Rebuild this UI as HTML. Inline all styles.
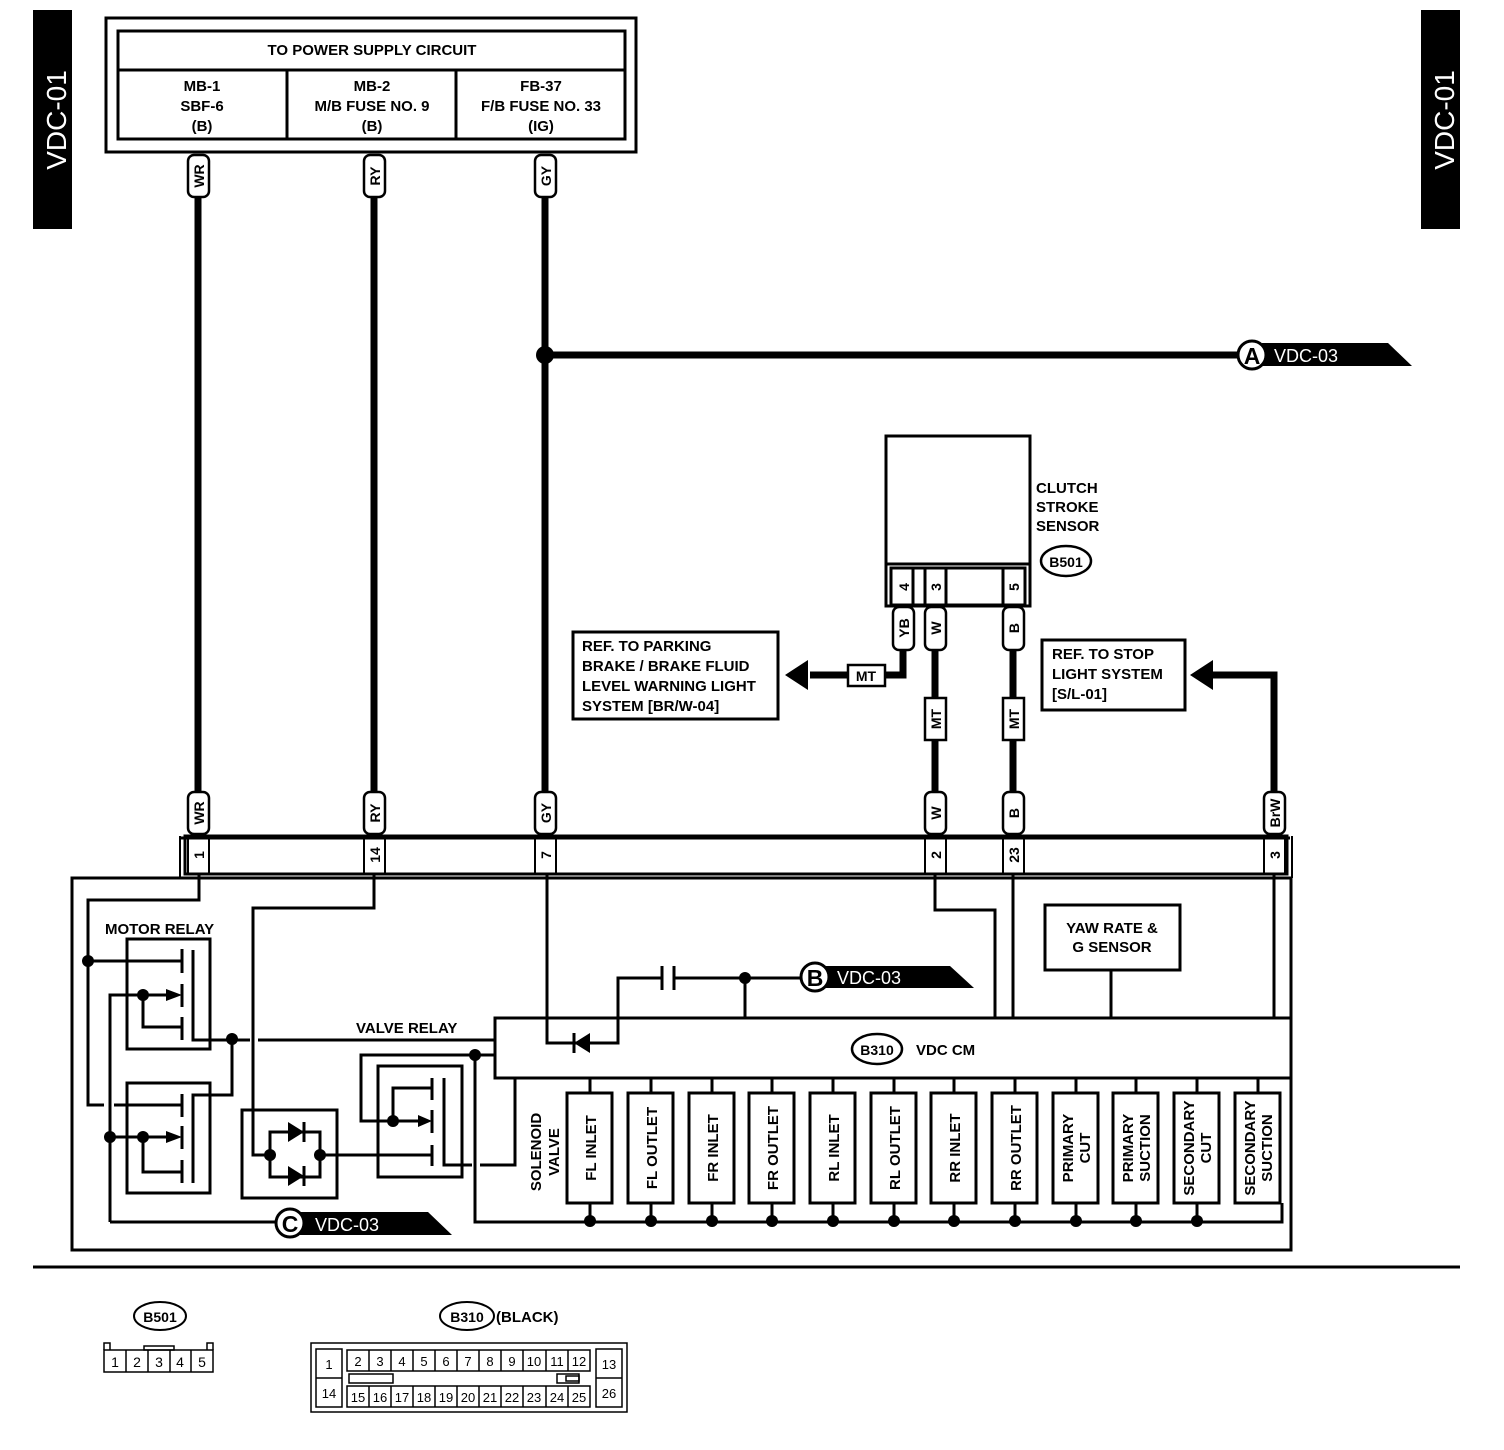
<!DOCTYPE html>
<html><head><meta charset="utf-8"><style>
html,body{margin:0;padding:0;background:#fff;}
svg{display:block;font-family:"Liberation Sans",Arial,sans-serif;font-weight:bold;}
</style></head><body>
<svg width="1504" height="1450" viewBox="0 0 1504 1450" xmlns="http://www.w3.org/2000/svg">
<rect width="1504" height="1450" fill="#fff"/>
<!-- side tabs -->
<rect x="33" y="10" width="39" height="219" fill="#000"/>
<text transform="translate(66,120) rotate(-90)" text-anchor="middle" font-size="28" fill="#fff" font-weight="normal">VDC-01</text>
<rect x="1421" y="10" width="39" height="219" fill="#000"/>
<text transform="translate(1454,120) rotate(-90)" text-anchor="middle" font-size="28" fill="#fff" font-weight="normal">VDC-01</text>

<g fill="none" stroke="#000">
<!-- top box -->
<rect x="106" y="18" width="530" height="134" stroke-width="3"/>
<rect x="118" y="31" width="507" height="108" stroke-width="3"/>
<line x1="118" y1="70" x2="625" y2="70" stroke-width="3"/>
<line x1="287" y1="70" x2="287" y2="139" stroke-width="3"/>
<line x1="456" y1="70" x2="456" y2="139" stroke-width="3"/>
<!-- thick wires -->
<g stroke-width="7">
<line x1="198" y1="195" x2="198" y2="793"/>
<line x1="374" y1="195" x2="374" y2="793"/>
<line x1="545" y1="195" x2="545" y2="793"/>
<line x1="545" y1="355" x2="1240" y2="355"/>
<polyline points="903,650 903,675 885,675"/>
<line x1="848" y1="675" x2="810" y2="675"/>
<line x1="935" y1="650" x2="935" y2="793"/>
<line x1="1013" y1="650" x2="1013" y2="793"/>
<polyline points="1274,793 1274,675 1212,675"/>
</g>
<!-- clutch sensor -->
<rect x="886" y="436" width="144" height="128" stroke-width="3"/>
<polyline points="886,564 886,606 1030,606 1030,564" stroke-width="3"/>
<rect x="891" y="568" width="134" height="37" stroke-width="3"/>
<line x1="913" y1="568" x2="913" y2="605" stroke-width="3"/>
<line x1="925" y1="568" x2="925" y2="605" stroke-width="3"/>
<line x1="946" y1="568" x2="946" y2="605" stroke-width="3"/>
<line x1="1003" y1="568" x2="1003" y2="605" stroke-width="3"/>
<!-- ref boxes -->
<rect x="573" y="632" width="205" height="87" stroke-width="3"/>
<rect x="1042" y="640" width="143" height="70" stroke-width="3"/>
<!-- connector strip -->
<polyline points="180,838 1290,838" stroke-width="3"/>
<rect x="185" y="836" width="1102" height="38" stroke-width="3"/>
<polyline points="180,836 180,878" stroke-width="2"/>
<polyline points="1292,836 1292,878" stroke-width="2"/>
<!-- main box -->
<rect x="72" y="878" width="1219" height="372" stroke-width="3"/>
<!-- pin cells -->
<g stroke-width="2">
<rect x="188" y="836" width="21" height="38"/>
<rect x="364" y="836" width="21" height="38"/>
<rect x="535" y="836" width="21" height="38"/>
<rect x="925" y="836" width="21" height="38"/>
<rect x="1003" y="836" width="21" height="38"/>
<rect x="1264" y="836" width="21" height="38"/>
</g>
<!-- internal wiring -->
<g stroke-width="3">
<polyline points="199,874 199,900 88,900 88,1105 104,1105"/>
<line x1="114" y1="1105" x2="182" y2="1105"/>
<line x1="88" y1="961" x2="182" y2="961"/>
<rect x="127" y="939" width="83" height="110"/>
<rect x="127" y="1083" width="83" height="110"/>
<line x1="182" y1="949" x2="182" y2="973"/><line x1="182" y1="984" x2="182" y2="1007"/><line x1="182" y1="1017" x2="182" y2="1040"/>
<polyline points="193,950 193,1040 232,1040"/>
<polyline points="110,1222 110,995 168,995"/>
<polyline points="143,995 143,1027 182,1027"/>
<line x1="182" y1="1094" x2="182" y2="1117"/><line x1="182" y1="1126" x2="182" y2="1149"/><line x1="182" y1="1160" x2="182" y2="1183"/>
<polyline points="193,1183 193,1095 232,1095 232,1040 250,1040"/>
<line x1="258" y1="1040" x2="495" y2="1040"/>
<line x1="110" y1="1137" x2="168" y2="1137"/>
<polyline points="143,1137 143,1172 182,1172"/>
<line x1="110" y1="1222" x2="280" y2="1222"/>
<polyline points="374,874 374,908 253,908 253,1155 270,1155"/>
<rect x="242" y="1110" width="95" height="88"/>
<rect x="270" y="1132" width="50" height="45"/>
<line x1="320" y1="1155" x2="432" y2="1155"/>
<polyline points="495,1055 361,1055 361,1121 420,1121"/>
<polyline points="393,1121 393,1088 432,1088"/>
<rect x="378" y="1066" width="84" height="111"/>
<line x1="432" y1="1078" x2="432" y2="1100"/><line x1="432" y1="1110" x2="432" y2="1133"/><line x1="432" y1="1145" x2="432" y2="1166"/>
<polyline points="444,1078 444,1165 472,1165"/>
<polyline points="480,1165 515,1165 515,1078"/>
<polyline points="475,1055 475,1222 1282,1222 1282,1203"/>
<!-- VDC CM -->
<rect x="495" y="1018" width="796" height="60"/>
<polyline points="547,874 547,1043 578,1043"/>
<polyline points="588,1043 618,1043 618,978 662,978"/>
<line x1="662" y1="966" x2="662" y2="990"/><line x1="674" y1="966" x2="674" y2="990"/>
<line x1="674" y1="978" x2="800" y2="978"/>
<line x1="745" y1="978" x2="745" y2="1018"/>
<polyline points="935,874 935,910 995,910 995,1018"/>
<line x1="1013" y1="874" x2="1013" y2="1018"/>
<rect x="1045" y="905" width="135" height="65"/>
<line x1="1111" y1="970" x2="1111" y2="1018"/>
<line x1="1274" y1="874" x2="1274" y2="1018"/>
<!-- separator -->
<line x1="33" y1="1267" x2="1460" y2="1267"/>
</g>
</g>

<!-- diodes -->
<polygon points="288,1122 288,1142 304,1132" fill="#000"/><line x1="304" y1="1122" x2="304" y2="1142" stroke="#000" stroke-width="3"/>
<polygon points="288,1166 288,1186 304,1176" fill="#000"/><line x1="304" y1="1166" x2="304" y2="1186" stroke="#000" stroke-width="3"/>
<polygon points="590,1033 590,1053 574,1043" fill="#000"/><line x1="574" y1="1033" x2="574" y2="1053" stroke="#000" stroke-width="3"/>
<!-- relay arrows -->
<g fill="#000">
<polygon points="166,989 182,995 166,1001"/><polygon points="166,1131 182,1137 166,1143"/><polygon points="418,1115 432,1121 418,1127"/>
<!-- dots -->
<circle cx="545" cy="355" r="9"/>
<circle cx="88" cy="961" r="6"/><circle cx="143" cy="995" r="6"/><circle cx="232" cy="1039" r="6"/>
<circle cx="110" cy="1137" r="6"/><circle cx="143" cy="1137" r="6"/>
<circle cx="270" cy="1155" r="6"/><circle cx="320" cy="1155" r="6"/>
<circle cx="393" cy="1121" r="6"/><circle cx="475" cy="1055" r="6"/>
<circle cx="745" cy="978" r="6"/>
<!-- arrows -->
<polygon points="785,675 808,660 808,690"/>
<polygon points="1190,675 1213,660 1213,690"/>
</g>

<!-- flags -->
<polygon points="1262,343 1388,343 1412,366 1262,366" fill="#000"/>
<circle cx="1252" cy="355" r="14" fill="#fff" stroke="#000" stroke-width="3"/>
<text x="1252" y="364" text-anchor="middle" font-size="23">A</text>
<text x="1274" y="362" font-size="18" fill="#fff" font-weight="normal">VDC-03</text>
<polygon points="825,966 950,966 974,988 825,988" fill="#000"/>
<circle cx="815" cy="977" r="14" fill="#fff" stroke="#000" stroke-width="3"/>
<text x="815" y="986" text-anchor="middle" font-size="23">B</text>
<text x="837" y="984" font-size="18" fill="#fff" font-weight="normal">VDC-03</text>
<polygon points="300,1212 428,1212 452,1235 300,1235" fill="#000"/>
<circle cx="290" cy="1223" r="14" fill="#fff" stroke="#000" stroke-width="3"/>
<text x="290" y="1232" text-anchor="middle" font-size="23">C</text>
<text x="315" y="1231" font-size="18" fill="#fff" font-weight="normal">VDC-03</text>

<!-- top box text -->
<g font-size="15" text-anchor="middle">
<text x="372" y="55">TO POWER SUPPLY CIRCUIT</text>
<text x="202" y="91">MB-1</text><text x="202" y="111">SBF-6</text><text x="202" y="131">(B)</text>
<text x="372" y="91">MB-2</text><text x="372" y="111">M/B FUSE NO. 9</text><text x="372" y="131">(B)</text>
<text x="541" y="91">FB-37</text><text x="541" y="111">F/B FUSE NO. 33</text><text x="541" y="131">(IG)</text>
</g>

<!-- wire tags -->
<g stroke="#000" stroke-width="2.5" fill="#fff">
<rect x="188" y="155" width="21" height="42" rx="6"/>
<rect x="364" y="155" width="21" height="42" rx="6"/>
<rect x="535" y="155" width="21" height="42" rx="6"/>
<rect x="188" y="792" width="21" height="42" rx="6"/>
<rect x="364" y="792" width="21" height="42" rx="6"/>
<rect x="535" y="792" width="21" height="42" rx="6"/>
<rect x="925" y="792" width="21" height="42" rx="6"/>
<rect x="1003" y="792" width="21" height="42" rx="6"/>
<rect x="1264" y="792" width="21" height="42" rx="6"/>
<rect x="893" y="607" width="21" height="43" rx="6"/>
<rect x="925" y="607" width="21" height="43" rx="6"/>
<rect x="1003" y="607" width="21" height="43" rx="6"/>
<rect x="925" y="698" width="21" height="42"/>
<rect x="1003" y="698" width="21" height="42"/>
<rect x="848" y="665" width="37" height="21"/>
</g>
<g font-size="14">
<text transform="translate(204,176) rotate(-90)" text-anchor="middle">WR</text>
<text transform="translate(380,176) rotate(-90)" text-anchor="middle">RY</text>
<text transform="translate(551,176) rotate(-90)" text-anchor="middle">GY</text>
<text transform="translate(204,813) rotate(-90)" text-anchor="middle">WR</text>
<text transform="translate(380,813) rotate(-90)" text-anchor="middle">RY</text>
<text transform="translate(551,813) rotate(-90)" text-anchor="middle">GY</text>
<text transform="translate(941,813) rotate(-90)" text-anchor="middle">W</text>
<text transform="translate(1019,813) rotate(-90)" text-anchor="middle">B</text>
<text transform="translate(1280,813) rotate(-90)" text-anchor="middle">BrW</text>
<text transform="translate(909,628) rotate(-90)" text-anchor="middle">YB</text>
<text transform="translate(941,628) rotate(-90)" text-anchor="middle">W</text>
<text transform="translate(1019,628) rotate(-90)" text-anchor="middle">B</text>
<text transform="translate(941,719) rotate(-90)" text-anchor="middle">MT</text>
<text transform="translate(1019,719) rotate(-90)" text-anchor="middle">MT</text>
<text x="866" y="681" text-anchor="middle">MT</text>
<!-- pin numbers -->
<text transform="translate(204,855) rotate(-90)" text-anchor="middle">1</text>
<text transform="translate(380,855) rotate(-90)" text-anchor="middle">14</text>
<text transform="translate(551,855) rotate(-90)" text-anchor="middle">7</text>
<text transform="translate(941,855) rotate(-90)" text-anchor="middle">2</text>
<text transform="translate(1019,855) rotate(-90)" text-anchor="middle">23</text>
<text transform="translate(1280,855) rotate(-90)" text-anchor="middle">3</text>
<text transform="translate(909,587) rotate(-90)" text-anchor="middle">4</text>
<text transform="translate(941,587) rotate(-90)" text-anchor="middle">3</text>
<text transform="translate(1019,587) rotate(-90)" text-anchor="middle">5</text>
</g>

<!-- labels -->
<g font-size="15">
<text x="1036" y="493">CLUTCH</text><text x="1036" y="512">STROKE</text><text x="1036" y="531">SENSOR</text>
<text x="582" y="651">REF. TO PARKING</text><text x="582" y="671">BRAKE / BRAKE FLUID</text><text x="582" y="691">LEVEL WARNING LIGHT</text><text x="582" y="711">SYSTEM [BR/W-04]</text>
<text x="1052" y="659">REF. TO STOP</text><text x="1052" y="679">LIGHT SYSTEM</text><text x="1052" y="699">[S/L-01]</text>
<text x="105" y="934">MOTOR RELAY</text>
<text x="356" y="1033">VALVE RELAY</text>
<text x="1112" y="933" text-anchor="middle">YAW RATE &amp;</text><text x="1112" y="952" text-anchor="middle">G SENSOR</text>
<text x="916" y="1055">VDC CM</text>
<text transform="translate(541,1152) rotate(-90)" text-anchor="middle">SOLENOID</text>
<text transform="translate(559,1152) rotate(-90)" text-anchor="middle">VALVE</text>
</g>
<ellipse cx="1066" cy="561" rx="25" ry="15" fill="none" stroke="#000" stroke-width="2.5"/>
<text x="1066" y="567" text-anchor="middle" font-size="14">B501</text>
<ellipse cx="877" cy="1049" rx="25" ry="15" fill="none" stroke="#000" stroke-width="2.5"/>
<text x="877" y="1055" text-anchor="middle" font-size="14">B310</text>

<!-- solenoid boxes -->
<g stroke="#000" stroke-width="3" fill="none">
<g id="sb">
</g>
</g>
<g stroke="#000" stroke-width="3" fill="#fff">
<rect x="567" y="1093" width="45" height="110"/><rect x="628" y="1093" width="45" height="110"/>
<rect x="689" y="1093" width="45" height="110"/><rect x="749" y="1093" width="45" height="110"/>
<rect x="810" y="1093" width="45" height="110"/><rect x="871" y="1093" width="45" height="110"/>
<rect x="931" y="1093" width="45" height="110"/><rect x="992" y="1093" width="45" height="110"/>
<rect x="1053" y="1093" width="45" height="110"/><rect x="1113" y="1093" width="45" height="110"/>
<rect x="1174" y="1093" width="45" height="110"/><rect x="1235" y="1093" width="45" height="110"/>
</g>
<g stroke="#000" stroke-width="3">
<line x1="590" y1="1078" x2="590" y2="1093"/><line x1="651" y1="1078" x2="651" y2="1093"/><line x1="712" y1="1078" x2="712" y2="1093"/><line x1="772" y1="1078" x2="772" y2="1093"/><line x1="833" y1="1078" x2="833" y2="1093"/><line x1="894" y1="1078" x2="894" y2="1093"/><line x1="954" y1="1078" x2="954" y2="1093"/><line x1="1015" y1="1078" x2="1015" y2="1093"/><line x1="1076" y1="1078" x2="1076" y2="1093"/><line x1="1136" y1="1078" x2="1136" y2="1093"/><line x1="1197" y1="1078" x2="1197" y2="1093"/><line x1="1258" y1="1078" x2="1258" y2="1093"/>
<line x1="590" y1="1203" x2="590" y2="1222"/><line x1="651" y1="1203" x2="651" y2="1222"/><line x1="712" y1="1203" x2="712" y2="1222"/><line x1="772" y1="1203" x2="772" y2="1222"/><line x1="833" y1="1203" x2="833" y2="1222"/><line x1="894" y1="1203" x2="894" y2="1222"/><line x1="954" y1="1203" x2="954" y2="1222"/><line x1="1015" y1="1203" x2="1015" y2="1222"/><line x1="1076" y1="1203" x2="1076" y2="1222"/><line x1="1136" y1="1203" x2="1136" y2="1222"/><line x1="1197" y1="1203" x2="1197" y2="1222"/>
</g>
<g fill="#000">
<circle cx="590" cy="1221" r="6"/><circle cx="651" cy="1221" r="6"/><circle cx="712" cy="1221" r="6"/><circle cx="772" cy="1221" r="6"/><circle cx="833" cy="1221" r="6"/><circle cx="894" cy="1221" r="6"/><circle cx="954" cy="1221" r="6"/><circle cx="1015" cy="1221" r="6"/><circle cx="1076" cy="1221" r="6"/><circle cx="1136" cy="1221" r="6"/><circle cx="1197" cy="1221" r="6"/>
</g>
<g font-size="15" text-anchor="middle">
<text transform="translate(596,1148) rotate(-90)">FL INLET</text>
<text transform="translate(657,1148) rotate(-90)">FL OUTLET</text>
<text transform="translate(718,1148) rotate(-90)">FR INLET</text>
<text transform="translate(778,1148) rotate(-90)">FR OUTLET</text>
<text transform="translate(839,1148) rotate(-90)">RL INLET</text>
<text transform="translate(900,1148) rotate(-90)">RL OUTLET</text>
<text transform="translate(960,1148) rotate(-90)">RR INLET</text>
<text transform="translate(1021,1148) rotate(-90)">RR OUTLET</text>
<text transform="translate(1073,1148) rotate(-90)">PRIMARY</text><text transform="translate(1090,1148) rotate(-90)">CUT</text>
<text transform="translate(1133,1148) rotate(-90)">PRIMARY</text><text transform="translate(1150,1148) rotate(-90)">SUCTION</text>
<text transform="translate(1194,1148) rotate(-90)">SECONDARY</text><text transform="translate(1211,1148) rotate(-90)">CUT</text>
<text transform="translate(1255,1148) rotate(-90)">SECONDARY</text><text transform="translate(1272,1148) rotate(-90)">SUCTION</text>
</g>

<!-- bottom connectors -->
<ellipse cx="160" cy="1316" rx="26" ry="14" fill="none" stroke="#000" stroke-width="2"/>
<text x="160" y="1322" text-anchor="middle" font-size="14">B501</text>
<g fill="none" stroke="#000" stroke-width="1.5">
<rect x="104" y="1350" width="109" height="22"/>
<polyline points="104,1350 104,1343 110,1343 110,1350"/>
<polyline points="207,1350 207,1343 213,1343 213,1350"/>
<rect x="144" y="1346" width="30" height="4"/>
<line x1="126" y1="1350" x2="126" y2="1372"/><line x1="148" y1="1350" x2="148" y2="1372"/><line x1="170" y1="1350" x2="170" y2="1372"/><line x1="191" y1="1350" x2="191" y2="1372"/>
</g>
<g font-size="14" font-weight="normal" text-anchor="middle">
<text x="115" y="1367">1</text><text x="137" y="1367">2</text><text x="159" y="1367">3</text><text x="180" y="1367">4</text><text x="202" y="1367">5</text>
</g>
<ellipse cx="467" cy="1316" rx="27" ry="14" fill="none" stroke="#000" stroke-width="2"/>
<text x="467" y="1322" text-anchor="middle" font-size="14">B310</text>
<text x="496" y="1322" font-size="15">(BLACK)</text>
<g fill="none" stroke="#000" stroke-width="1.5">
<rect x="311" y="1343" width="316" height="69"/>
<rect x="316" y="1349" width="26" height="58"/><line x1="316" y1="1378" x2="342" y2="1378"/>
<rect x="596" y="1349" width="26" height="58"/><line x1="596" y1="1378" x2="622" y2="1378"/>
<rect x="347" y="1350" width="243" height="21"/>
<rect x="347" y="1386" width="243" height="21"/>
<rect x="349" y="1374" width="44" height="9"/>
<rect x="557" y="1374" width="22" height="9"/><rect x="566" y="1376" width="13" height="5"/>
</g>
<g stroke="#000" stroke-width="1.5">
<line x1="369" y1="1350" x2="369" y2="1371"/><line x1="391" y1="1350" x2="391" y2="1371"/><line x1="413" y1="1350" x2="413" y2="1371"/><line x1="435" y1="1350" x2="435" y2="1371"/><line x1="457" y1="1350" x2="457" y2="1371"/><line x1="479" y1="1350" x2="479" y2="1371"/><line x1="501" y1="1350" x2="501" y2="1371"/><line x1="523" y1="1350" x2="523" y2="1371"/><line x1="546" y1="1350" x2="546" y2="1371"/><line x1="568" y1="1350" x2="568" y2="1371"/>
<line x1="369" y1="1386" x2="369" y2="1407"/><line x1="391" y1="1386" x2="391" y2="1407"/><line x1="413" y1="1386" x2="413" y2="1407"/><line x1="435" y1="1386" x2="435" y2="1407"/><line x1="457" y1="1386" x2="457" y2="1407"/><line x1="479" y1="1386" x2="479" y2="1407"/><line x1="501" y1="1386" x2="501" y2="1407"/><line x1="523" y1="1386" x2="523" y2="1407"/><line x1="546" y1="1386" x2="546" y2="1407"/><line x1="568" y1="1386" x2="568" y2="1407"/>
</g>
<g font-size="13" font-weight="normal" text-anchor="middle">
<text x="329" y="1369">1</text><text x="329" y="1398">14</text><text x="609" y="1369">13</text><text x="609" y="1398">26</text>
<text x="358" y="1366">2</text><text x="380" y="1366">3</text><text x="402" y="1366">4</text><text x="424" y="1366">5</text><text x="446" y="1366">6</text><text x="468" y="1366">7</text><text x="490" y="1366">8</text><text x="512" y="1366">9</text><text x="534" y="1366">10</text><text x="557" y="1366">11</text><text x="579" y="1366">12</text>
<text x="358" y="1402">15</text><text x="380" y="1402">16</text><text x="402" y="1402">17</text><text x="424" y="1402">18</text><text x="446" y="1402">19</text><text x="468" y="1402">20</text><text x="490" y="1402">21</text><text x="512" y="1402">22</text><text x="534" y="1402">23</text><text x="557" y="1402">24</text><text x="579" y="1402">25</text>
</g>
</svg>
</body></html>
